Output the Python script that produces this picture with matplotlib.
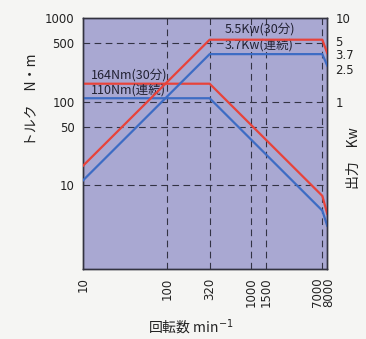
import matplotlib
matplotlib.use("Agg")
import matplotlib.pyplot as plt
import matplotlib.transforms as mtransforms

plt.rcParams['font.family'] = ['Noto Sans CJK JP', 'DejaVu Sans']

rpm = [10, 320, 7000, 8000]
torque_30 = [164, 164, 7.5, 4.6]
torque_cont = [110, 110, 5.0, 3.3]
power_30 = [0.172, 5.5, 5.5, 3.8]
power_cont = [0.115, 3.7, 3.7, 2.7]

x_ticks = [10, 100, 320, 1000, 1500, 7000, 8000]
x_labels = ["10", "100", "320", "1000", "1500", "7000", "8000"]
y_ticks = [10, 50, 100, 500, 1000]
y_labels = ["10", "50", "100", "500", "1000"]
p_ticks = [1, 2.5, 3.7, 5, 10]
p_labels = ["1", "2.5", "3.7", "5", "10"]
x_grid = [100, 320, 1000, 1500, 7000]
y_grid = [10, 50, 100, 500]

RED = "#e8433a"
BLUE = "#3d6cc4"
BG = "#a9a8d2"
TICKFONT = ['DejaVu Sans']

fig = plt.figure(figsize=(3.66, 3.39), dpi=100, facecolor="#f5f5f3")
ax = fig.add_axes([0.227, 0.206, 0.667, 0.741])
ax.set_facecolor(BG)
ax.set_xscale("log")
ax.set_yscale("log")
ax.set_xlim(10, 8000)
ax.set_ylim(1, 1000)

for xv in x_grid:
    ax.axvline(xv, color="#333344", lw=0.8, ls=(0, (6, 4)), zorder=1)
for yv in y_grid:
    ax.axhline(yv, color="#333344", lw=0.8, ls=(0, (6, 4)), zorder=1)

ax.plot(rpm, torque_30, color=RED, lw=1.6, zorder=3)
ax.plot(rpm, torque_cont, color=BLUE, lw=1.6, zorder=3)

ax2 = ax.twinx()
ax2.set_yscale("log")
ax2.set_ylim(0.01, 10)
ax2.plot(rpm, power_30, color=RED, lw=1.6, zorder=3)
ax2.plot(rpm, power_cont, color=BLUE, lw=1.6, zorder=3)

ax.set_xticks(x_ticks)
ax.set_xticklabels(x_labels, rotation=90, fontsize=8.5, family=TICKFONT)
ax.xaxis.set_minor_locator(matplotlib.ticker.NullLocator())
ax.set_yticks(y_ticks)
ax.set_yticklabels(y_labels, fontsize=8.5, family=TICKFONT)
ax.yaxis.set_minor_locator(matplotlib.ticker.NullLocator())
ax.tick_params(length=0, pad=6, colors="#222222")
ax2.set_yticks(p_ticks)
ax2.set_yticklabels(p_labels, fontsize=8.5, family=TICKFONT)
ax2.yaxis.set_minor_locator(matplotlib.ticker.NullLocator())
ax2.tick_params(length=0, pad=6, colors="#222222")

# nudge crowded labels apart
xl = ax.get_xticklabels()
xl[5].set_transform(xl[5].get_transform() + mtransforms.ScaledTranslation(-5/100, 0, fig.dpi_scale_trans))
xl[6].set_transform(xl[6].get_transform() + mtransforms.ScaledTranslation(2/100, 0, fig.dpi_scale_trans))
pl = ax2.get_yticklabels()
pl[1].set_transform(pl[1].get_transform() + mtransforms.ScaledTranslation(0, -1/100, fig.dpi_scale_trans))
pl[3].set_transform(pl[3].get_transform() + mtransforms.ScaledTranslation(0, 2/100, fig.dpi_scale_trans))

for a in (ax, ax2):
    for s in a.spines.values():
        s.set_color("#333340")
        s.set_linewidth(1.0)

box = dict(facecolor=BG, edgecolor="none", pad=0.5)
ax.text(12.3, 176, "164Nm(30分)", fontsize=9, color="#222233", va="bottom", ha="left", zorder=4)
ax.text(12.3, 116, "110Nm(連続)", fontsize=9, color="#222233", va="bottom", ha="left", zorder=4)
ax.text(1250, 620, "5.5Kw(30分)", fontsize=9, color="#222233", va="bottom", ha="center", zorder=2)
ax.text(1250, 400, "3.7Kw(連続)", fontsize=9, color="#222233", va="bottom", ha="center", zorder=2, bbox=box)

fig.text(0.52, 0.005, "回転数 min$^{-1}$", fontsize=10, ha="center", va="bottom", color="#222222")
fig.text(0.085, 0.705, "トルク　N・m", fontsize=10, rotation=90, ha="center", va="center", color="#222222")
fig.text(0.968, 0.535, "出力　Kw", fontsize=10, rotation=90, ha="center", va="center", color="#222222")

fig.savefig("out.png", dpi=100, facecolor=fig.get_facecolor())
